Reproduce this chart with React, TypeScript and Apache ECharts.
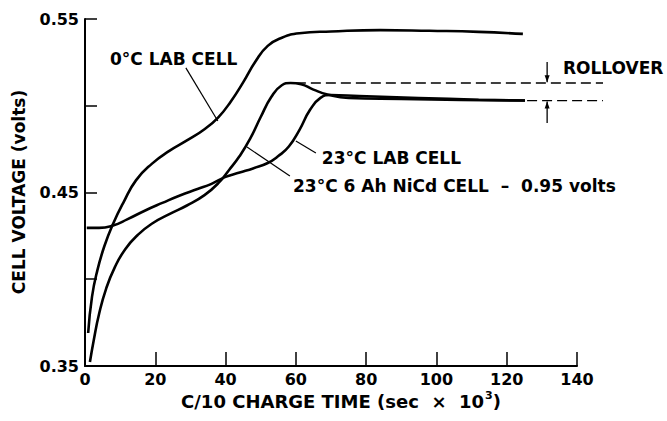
import React, { useEffect, useRef } from "react";
import * as echarts from "echarts";

// ---- Data ----
const cell0cX = [0.9, 2, 3.5, 5.5, 8, 11, 14.5, 19, 24, 29, 34, 38, 41.5, 45, 48.5, 52, 56, 61, 70, 84, 98, 112, 124.6];
const cell0cY = [0.369, 0.39, 0.405, 0.419, 0.432, 0.4445, 0.457, 0.4665, 0.474, 0.48, 0.4865, 0.4935, 0.5025, 0.5135, 0.5255, 0.5345, 0.5392, 0.5418, 0.5428, 0.5436, 0.5432, 0.5426, 0.5414];

const lab23X = [0.5, 4, 8, 12, 17, 22, 27, 32, 36, 40, 44, 48, 52, 55, 58, 61, 64, 67, 70, 78, 95, 112, 125.2];
const lab23Y = [0.4296, 0.4296, 0.431, 0.4345, 0.4395, 0.444, 0.4483, 0.452, 0.455, 0.459, 0.4615, 0.464, 0.467, 0.471, 0.4765, 0.486, 0.4975, 0.5045, 0.5062, 0.5056, 0.5045, 0.5035, 0.503];

const nicdX = [1.4, 2.5, 4, 6, 8.5, 11.5, 15, 19, 24, 29, 34, 38, 41, 44, 47, 50, 53, 56, 58.5, 61.5, 65, 69, 75, 90, 107, 125.2];
const nicdY = [0.3523, 0.365, 0.38, 0.3945, 0.407, 0.4175, 0.4255, 0.432, 0.4375, 0.4425, 0.4485, 0.4555, 0.463, 0.471, 0.481, 0.4935, 0.505, 0.5118, 0.5131, 0.5124, 0.5093, 0.5065, 0.5045, 0.5039, 0.5033, 0.503];

const yLabelsShown = ["0.35", "0.45", "0.55"];

// Annotations in data coordinates
const label0c = { text: "0°C LAB CELL", at: [7.1, 0.527] };
const leader0c = [[28.7, 0.5218], [37.8, 0.4912]];
const labelLab23 = { text: "23°C LAB CELL", at: [67.4, 0.4699] };
const leaderLab23 = [[65.7, 0.4728], [60.0, 0.4797]];
const labelNicd = { text: "23°C 6 Ah NiCd CELL  –  0.95 volts", at: [59.2, 0.4537] };
const leaderNicd = [[58.3, 0.4595], [46.1, 0.4762]];
const labelRollover = { text: "ROLLOVER", at: [136.0, 0.5215] };
const rolloverHigh = [[60, 0.5131], [147.4, 0.5131]];
const rolloverLow = [[125.8, 0.503], [147.4, 0.503]];
const arrowDown = [[131.5, 0.5252], [131.5, 0.5136]];
const arrowUp = [[131.5, 0.49], [131.5, 0.5025]];

const zip = (xs: number[], ys: number[]) => xs.map((x, i) => [x, ys[i]]);

export default function App() {
  const ref = useRef<HTMLDivElement>(null);
  useEffect(() => {
    document.body.style.margin = "0";
    const chart = echarts.init(ref.current!, null, { renderer: "svg" });
    const FONT = "DejaVu Sans";
    const curve = (name: string, data: number[][]) => ({
      name,
      type: "line",
      data,
      showSymbol: false,
      symbol: "none",
      smooth: 0.5,
      lineStyle: { color: "#000", width: 2.6 },
    });
    chart.setOption({
      animation: false,
      backgroundColor: "#fff",
      grid: { left: 85, right: 90, top: 19, bottom: 55 },
      xAxis: {
        type: "value",
        min: 0,
        max: 140,
        interval: 20,
        splitLine: { show: false },
        axisLine: { lineStyle: { color: "#000", width: 2 } },
        axisTick: { inside: true, length: 14, lineStyle: { color: "#000", width: 1.5 } },
        axisLabel: { color: "#000", fontFamily: FONT, fontWeight: "bold", fontSize: 16, margin: 5 },
      },
      yAxis: {
        type: "value",
        min: 0.35,
        max: 0.55,
        interval: 0.05,
        splitLine: { show: false },
        axisLine: { show: true, lineStyle: { color: "#000", width: 2 } },
        axisTick: { show: true, inside: true, length: 12, lineStyle: { color: "#000", width: 1.5 } },
        axisLabel: {
          color: "#000",
          fontFamily: FONT,
          fontWeight: "bold",
          fontSize: 16,
          margin: 6,
          formatter: (v: number) => {
            const s = v.toFixed(2);
            return yLabelsShown.includes(s) ? s : "";
          },
        },
      },
      series: [
        curve("0°C LAB CELL", zip(cell0cX, cell0cY)),
        curve("23°C LAB CELL", zip(lab23X, lab23Y)),
        curve("23°C 6 Ah NiCd CELL", zip(nicdX, nicdY)),
      ],
    });

    const px = (p: number[]) => chart.convertToPixel({ gridIndex: 0 }, p) as number[];
    const textFont = `bold 17px "${FONT}"`;
    const label = (l: { text: string; at: number[] }, align = "left") => {
      const [x, y] = px(l.at);
      return {
        type: "text",
        x,
        y,
        style: {
          text: l.text,
          fill: "#000",
          font: textFont,
          textAlign: align,
          textVerticalAlign: "middle",
          align,
          verticalAlign: "middle",
        },
      };
    };
    const seg = (pts: number[][], width: number, dash?: number[]) => {
      const [a, b] = [px(pts[0]), px(pts[1])];
      return {
        type: "line",
        shape: { x1: a[0], y1: a[1], x2: b[0], y2: b[1] },
        style: { stroke: "#000", lineWidth: width, lineDash: dash },
      };
    };
    const head = (pts: number[][]) => {
      const a = px(pts[0]);
      const b = px(pts[1]);
      const dir = Math.sign(b[1] - a[1]);
      return {
        type: "polygon",
        shape: { points: [[b[0] - 2.5, b[1] - dir * 7], [b[0] + 2.5, b[1] - dir * 7], [b[0], b[1]]] },
        style: { fill: "#000" },
      };
    };

    chart.setOption({
      graphic: [
        label(label0c),
        label(labelLab23),
        label(labelNicd),
        label(labelRollover),
        seg(leader0c, 1.2),
        seg(leaderLab23, 1.2),
        seg(leaderNicd, 1.2),
        seg(rolloverHigh, 1.3, [10, 5]),
        seg(rolloverLow, 1.3, [10, 5]),
        seg(arrowDown, 1.3),
        head(arrowDown),
        seg(arrowUp, 1.3),
        head(arrowUp),
        {
          type: "text",
          x: 19,
          y: 192,
          rotation: Math.PI / 2,
          style: {
            text: "CELL VOLTAGE (volts)",
            fill: "#000",
            font: `bold 17px "${FONT}"`,
            textAlign: "center",
            textVerticalAlign: "middle",
            align: "center",
            verticalAlign: "middle",
          },
        },
        {
          type: "text",
          x: 341,
          y: 401,
          style: {
            text: "{a|C/10 CHARGE TIME (sec  ×  10}{b|3}{a|)}",
            fill: "#000",
            textAlign: "center",
            textVerticalAlign: "middle",
            align: "center",
            verticalAlign: "middle",
            rich: {
              a: { fontFamily: FONT, fontWeight: "bold", fontSize: 18, fill: "#000", color: "#000" },
              b: { fontFamily: FONT, fontWeight: "bold", fontSize: 11, fill: "#000", color: "#000", padding: [0, 0, 12, 1] },
            },
          },
        },
      ],
    });
    return () => chart.dispose();
  }, []);
  return <div ref={ref} style={{ width: 667, height: 421, background: "#fff" }} />;
}
